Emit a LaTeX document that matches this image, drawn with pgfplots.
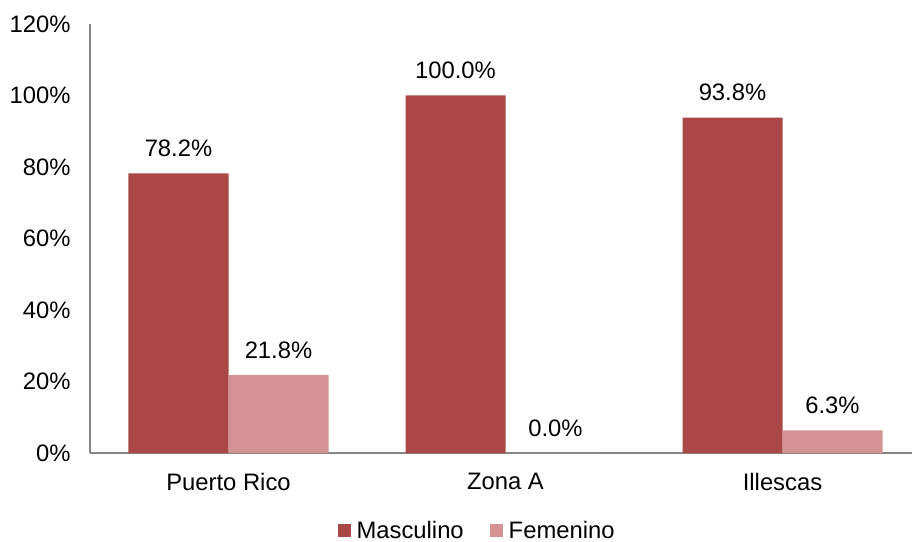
\documentclass[border=0pt]{standalone}
\usepackage{fontspec}
\setmainfont{Liberation Sans}
\usepackage{pgfplots}
\pgfplotsset{compat=1.18}
\definecolor{masc}{RGB}{169,72,70}
\definecolor{fem}{RGB}{212,146,146}
\definecolor{axgray}{RGB}{134,134,134}

\begin{document}
\begin{tikzpicture}[font=\fontsize{23.8bp}{28bp}\selectfont]
\begin{axis}[
    scale only axis,
    width=822bp, height=429bp,
    ybar=0pt,
    bar width=100bp,
    xmin=-0.5, xmax=2.4675,
    ymin=0, ymax=120,
    ytick={0,20,40,60,80,100,120},
    xtick={0,1,2},
    xticklabels={Puerto Rico, Zona A, Illescas},
    axis x line*=bottom,
    axis y line*=left,
    axis line style={draw=axgray, line width=1.3bp, -},
    major tick length=0pt,
    /pgf/number format/assume math mode=true,
    yticklabel={\pgfmathprintnumber{\tick}\%},
    yticklabel style={xshift=-16bp},
    xticklabel style={yshift=-17bp},
    nodes near coords={\pgfmathprintnumber[fixed,fixed zerofill,precision=1]{\pgfplotspointmeta}\%},
    nodes near coords style={yshift=13bp},
    legend style={at={(0.4703,-0.180)}, anchor=center, draw=none, legend columns=2,
        inner sep=0pt, nodes={inner sep=1bp},
        /tikz/every odd column/.append style={column sep=5bp},
        /tikz/every even column/.append style={column sep=25bp}},
    legend image code/.code={\fill[#1] (0bp,-6.5bp) rectangle (13bp,6.5bp);},
]
\addplot[fill=masc, draw=none, bar shift=-50bp] coordinates {(0,78.2) (1,100.0) (2,93.8)};
\addlegendentry{Masculino}
\addplot[fill=fem, draw=none, bar shift=50bp] coordinates {(0,21.8) (1,0.0) (2,6.3)};
\addlegendentry{Femenino}
\coordinate (bl) at (rel axis cs:0,0);
\coordinate (tr) at (rel axis cs:1,1);
\end{axis}
\pgfresetboundingbox
\path ([shift={(-90bp,-89bp)}]bl) rectangle ([shift={(0bp,24bp)}]tr);
\end{tikzpicture}
\end{document}
